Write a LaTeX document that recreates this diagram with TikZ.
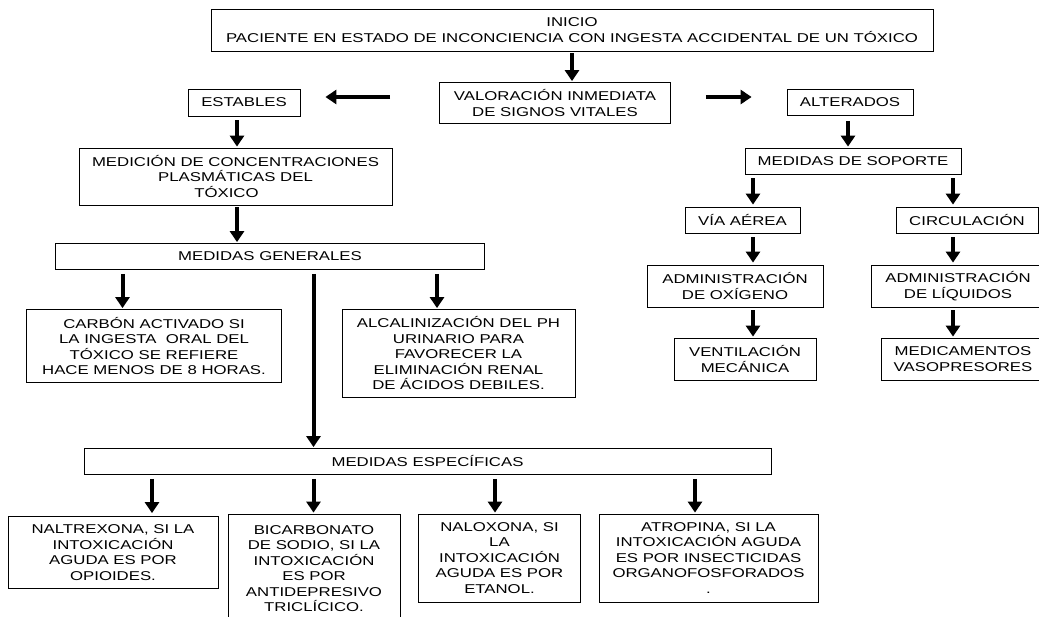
\documentclass[tikz,border=0pt]{standalone}
\usepackage{fontspec}
\setmainfont{Liberation Sans}[FakeStretch=1.31]
\usetikzlibrary{arrows.meta}
\tikzset{
  box/.style={draw, line width=0.8pt, align=center, inner sep=0pt},
  arr/.style={line width=4pt, -{Triangle[width=14pt,length=11pt]}},
}
\begin{document}
\begin{tikzpicture}[x=1pt,y=-1pt,font=\fontsize{12.8}{15.5}\selectfont]
\clip (0,0) rectangle (1039,616);
\fill[white] (0,0) rectangle (1039,616);
% nodes
\node[box,minimum width=722pt,minimum height=42pt] (inicio) at (572,30) {INICIO\\PACIENTE EN ESTADO DE INCONCIENCIA CON INGESTA ACCIDENTAL DE UN TÓXICO};
\node[box,minimum width=231pt,minimum height=41pt] (valor) at (555,103) {VALORACIÓN INMEDIATA\\DE SIGNOS VITALES};
\node[box,minimum width=112pt,minimum height=27pt] (estables) at (244,102.5) {ESTABLES};
\node[box,minimum width=126pt,minimum height=26pt] (alterados) at (850,102.5) {ALTERADOS};
\node[box,minimum width=313pt,minimum height=57pt] (medicion) at (235.5,176.5) {MEDICIÓN DE CONCENTRACIONES\\PLASMÁTICAS DEL\\TÓXICO\hspace*{18pt}};
\node[box,minimum width=429pt,minimum height=26pt] (generales) at (270,256.5) {MEDIDAS GENERALES};
\node[box,minimum width=255pt,minimum height=73pt] (carbon) at (154,346) {CARBÓN ACTIVADO SI\\LA INGESTA\ \ ORAL DEL\\TÓXICO SE REFIERE\\HACE MENOS DE 8 HORAS.};
\node[box,minimum width=233pt,minimum height=88pt] (alcal) at (458.5,353.5) {ALCALINIZACIÓN DEL PH\\URINARIO PARA\\FAVORECER LA\\ELIMINACIÓN RENAL\\DE ÁCIDOS DEBILES.};
\node[box,minimum width=687pt,minimum height=26pt] (especificas) at (427.5,461.5) {MEDIDAS ESPECÍFICAS};
\node[box,minimum width=210pt,minimum height=72pt] (naltrex) at (113,552.5) {NALTREXONA, SI LA\\INTOXICACIÓN\\AGUDA ES POR\\OPIOIDES.};
\node[box,minimum width=172pt,minimum height=109pt] (bicarb) at (314,568.5) {BICARBONATO\\DE SODIO, SI LA\\INTOXICACIÓN\\ES POR\\ANTIDEPRESIVO\\TRICLÍCICO.};
\node[box,minimum width=162pt,minimum height=88pt] (naloxona) at (499.5,558) {NALOXONA, SI\\LA\\INTOXICACIÓN\\AGUDA ES POR\\ETANOL.};
\node[box,minimum width=219pt,minimum height=88pt] (atropina) at (708.5,558) {ATROPINA, SI LA\\INTOXICACIÓN AGUDA\\ES POR INSECTICIDAS\\ORGANOFOSFORADOS\\.};
\node[box,minimum width=216pt,minimum height=26pt] (soporte) at (853,161) {MEDIDAS DE SOPORTE};
\node[box,minimum width=115pt,minimum height=26pt] (via) at (742.5,220) {VÍA AÉREA};
\node[box,minimum width=142pt,minimum height=26pt] (circ) at (967,220) {CIRCULACIÓN};
\node[box,minimum width=176pt,minimum height=42pt] (oxig) at (735,286) {ADMINISTRACIÓN\\DE OXÍGENO};
\node[box,minimum width=174pt,minimum height=42pt] (liq) at (958,286) {ADMINISTRACIÓN\\DE LÍQUIDOS};
\node[box,minimum width=142pt,minimum height=42pt] (vent) at (745,359) {VENTILACIÓN\\MECÁNICA};
\node[box,minimum width=164pt,minimum height=42pt] (medic) at (963,359) {MEDICAMENTOS\\VASOPRESORES};
% arrow guide coordinates
\coordinate (xa) at (572,0);
\coordinate (xb) at (237,0);
\coordinate (xc) at (122.5,0);
\coordinate (xd) at (313.5,0);
\coordinate (xe) at (437,0);
\coordinate (xf) at (152,0);
\coordinate (xg) at (313.5,0);
\coordinate (xh) at (495,0);
\coordinate (xi) at (695,0);
\coordinate (xj) at (848,0);
\coordinate (xk) at (753,0);
\coordinate (xl) at (953,0);
\coordinate (ya) at (0,97);
% arrows
\draw[arr,shorten <=2pt,shorten >=1pt] (inicio.south -| xa) -- (valor.north -| xa);
\draw[arr,shorten <=49pt,shorten >=25pt] (valor.west |- ya) -- (estables.east |- ya);
\draw[arr,shorten <=35pt,shorten >=35pt] (valor.east |- ya) -- (alterados.west |- ya);
\draw[arr,shorten <=4pt,shorten >=1pt] (estables.south -| xb) -- (medicion.north -| xb);
\draw[arr,shorten <=2pt,shorten >=1pt] (medicion.south -| xb) -- (generales.north -| xb);
\draw[arr,shorten <=4pt,shorten >=1pt] (generales.south -| xc) -- (carbon.north -| xc);
\draw[arr,shorten <=4pt,shorten >=1pt] (generales.south -| xd) -- (especificas.north -| xd);
\draw[arr,shorten <=4pt,shorten >=1pt] (generales.south -| xe) -- (alcal.north -| xe);
\draw[arr,shorten <=4pt,shorten >=3pt] (especificas.south -| xf) -- (naltrex.north -| xf);
\draw[arr,shorten <=4pt,shorten >=1pt] (especificas.south -| xg) -- (bicarb.north -| xg);
\draw[arr,shorten <=4pt,shorten >=1pt] (especificas.south -| xh) -- (naloxona.north -| xh);
\draw[arr,shorten <=4pt,shorten >=1pt] (especificas.south -| xi) -- (atropina.north -| xi);
\draw[arr,shorten <=5pt,shorten >=1pt] (alterados.south -| xj) -- (soporte.north -| xj);
\draw[arr,shorten <=4pt,shorten >=2pt] (soporte.south -| xk) -- (via.north -| xk);
\draw[arr,shorten <=4pt,shorten >=2pt] (soporte.south -| xl) -- (circ.north -| xl);
\draw[arr,shorten <=4pt,shorten >=2pt] (via.south -| xk) -- (oxig.north -| xk);
\draw[arr,shorten <=4pt,shorten >=2pt] (circ.south -| xl) -- (liq.north -| xl);
\draw[arr,shorten <=3pt,shorten >=1pt] (oxig.south -| xk) -- (vent.north -| xk);
\draw[arr,shorten <=3pt,shorten >=1pt] (liq.south -| xl) -- (medic.north -| xl);
\end{tikzpicture}
\end{document}
